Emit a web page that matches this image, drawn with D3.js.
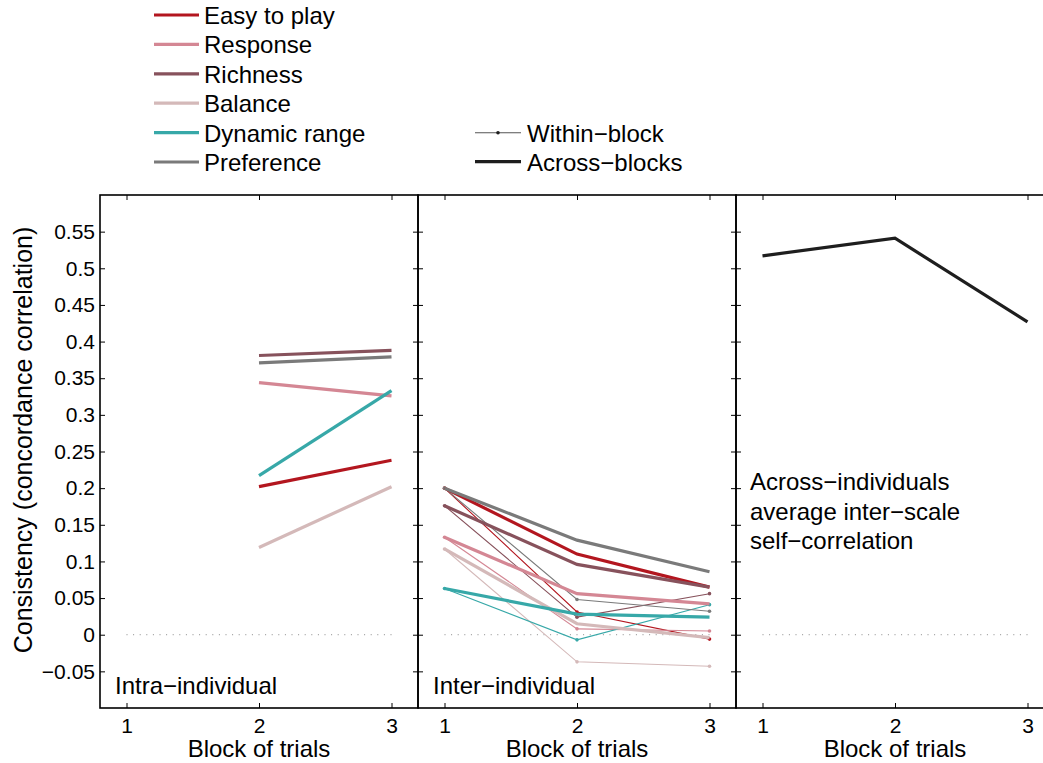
<!DOCTYPE html>
<html>
<head>
<meta charset="utf-8">
<script src="https://cdn.jsdelivr.net/npm/d3@7"></script>
<style>
  html, body { margin: 0; padding: 0; background: #fff; }
  svg { display: block; font-family: "Liberation Sans", Arial, Helvetica, sans-serif; }
</style>
</head>
<body>
<svg id="chart" width="1043" height="763"></svg>
<script>
// ---- data ----
const scales = ["Easy to play", "Response", "Richness", "Balance", "Dynamic range", "Preference"];
const scaleColors = ["#b3161f", "#d48794", "#87525c", "#d4b9b9", "#37a8a8", "#7a7a7a"];

// Intra-individual consistency, across blocks (blocks 2 and 3)
const intraBlocks = [2, 3];
const intraEasy = [0.202, 0.238];
const intraResponse = [0.344, 0.326];
const intraRichness = [0.381, 0.388];
const intraBalance = [0.119, 0.202];
const intraDynamic = [0.217, 0.333];
const intraPreference = [0.371, 0.379];

// Inter-individual consistency, across blocks
const interBlocks = [1, 2, 3];
const interEasy = [0.200, 0.110, 0.065];
const interResponse = [0.133, 0.056, 0.042];
const interRichness = [0.176, 0.096, 0.065];
const interBalance = [0.117, 0.015, -0.004];
const interDynamic = [0.063, 0.028, 0.024];
const interPreference = [0.200, 0.129, 0.086];

// Inter-individual consistency, within block
const withinEasy = [0.200, 0.031, -0.006];
const withinResponse = [0.133, 0.008, 0.005];
const withinRichness = [0.176, 0.024, 0.056];
const withinBalance = [0.117, -0.037, -0.043];
const withinDynamic = [0.063, -0.007, 0.041];
const withinPreference = [0.200, 0.048, 0.032];

// Across-individuals average inter-scale self-correlation
const selfBlocks = [1, 2, 3];
const selfCorrelation = [0.517, 0.541, 0.427];

const xTicks = [1, 2, 3];
const yTicks = [-0.05, 0, 0.05, 0.1, 0.15, 0.2, 0.25, 0.3, 0.35, 0.4, 0.45, 0.5, 0.55];
const yTickLabels = ["\u22120.05", "0", "0.05", "0.1", "0.15", "0.2", "0.25", "0.3", "0.35", "0.4", "0.45", "0.5", "0.55"];
const panelTitles = ["Intra\u2212individual", "Inter\u2212individual"];
const panel3Text = ["Across\u2212individuals", "average inter\u2212scale", "self\u2212correlation"];
const xTitle = "Block of trials";
const yTitle = "Consistency (concordance correlation)";

const intraSeries = [intraEasy, intraResponse, intraRichness, intraBalance, intraDynamic, intraPreference];
const interSeries = [interEasy, interResponse, interRichness, interBalance, interDynamic, interPreference];
const withinSeries = [withinEasy, withinResponse, withinRichness, withinBalance, withinDynamic, withinPreference];

// ---- layout ----
const svg = d3.select("#chart");
const plotTop = 195, plotBottom = 708;
const panelLeft = [100, 418, 736];
const panelW = 318;

const y = d3.scaleLinear().domain([-0.1, 0.6]).range([plotBottom, plotTop]);
const xs = panelLeft.map(l => d3.scaleLinear().domain([0.8, 3.2]).range([l, l + panelW]));

const tickFont = 21, labelFont = 24;

// zero reference lines
xs.forEach(x => {
  svg.append("line")
    .attr("x1", x(1)).attr("x2", x(3))
    .attr("y1", y(0)).attr("y2", y(0))
    .attr("stroke", "#8a8a8a").attr("stroke-width", 1)
    .attr("stroke-dasharray", "1,5.6");
});

const line = (x, blocks) => d3.line().x((d, i) => x(blocks[i])).y(d => y(d));

// panel 1: intra-individual, across blocks
intraSeries.forEach((s, k) => {
  svg.append("path").datum(s)
    .attr("d", line(xs[0], intraBlocks))
    .attr("fill", "none").attr("stroke", scaleColors[k]).attr("stroke-width", 3.2);
});

// panel 2: within-block thin lines with point markers
withinSeries.forEach((s, k) => {
  svg.append("path").datum(s)
    .attr("d", line(xs[1], interBlocks))
    .attr("fill", "none").attr("stroke", scaleColors[k]).attr("stroke-width", 1.1);
  svg.selectAll(null).data(s).enter().append("circle")
    .attr("cx", (d, i) => xs[1](interBlocks[i]))
    .attr("cy", d => y(d))
    .attr("r", 1.8).attr("fill", scaleColors[k]);
});
// panel 2: across-blocks thick lines
interSeries.forEach((s, k) => {
  svg.append("path").datum(s)
    .attr("d", line(xs[1], interBlocks))
    .attr("fill", "none").attr("stroke", scaleColors[k]).attr("stroke-width", 3.2);
});

// panel 3: self-correlation
svg.append("path").datum(selfCorrelation)
  .attr("d", line(xs[2], selfBlocks))
  .attr("fill", "none").attr("stroke", "#1e1e1e").attr("stroke-width", 3.2);

// axes boxes with inward ticks
xs.forEach((x, p) => {
  const gB = svg.append("g").attr("transform", `translate(0,${plotBottom})`)
    .call(d3.axisBottom(x).tickValues(xTicks).tickSizeInner(-5).tickSizeOuter(0).tickPadding(10).tickFormat(d3.format("d")));
  gB.selectAll("text").attr("font-size", tickFont).attr("font-family", null).attr("fill", "#000");
  svg.append("g").attr("transform", `translate(0,${plotTop})`)
    .call(d3.axisTop(x).tickValues(xTicks).tickSizeInner(-5).tickSizeOuter(0).tickFormat(""));

  const gL = svg.append("g").attr("transform", `translate(${panelLeft[p]},0)`)
    .call(d3.axisLeft(y).tickValues(yTicks).tickSizeInner(-5).tickSizeOuter(0).tickPadding(5)
      .tickFormat(d => p === 0 ? yTickLabels[yTicks.indexOf(d)] : ""));
  gL.selectAll("text").attr("font-size", tickFont).attr("font-family", null).attr("fill", "#000");
  svg.append("g").attr("transform", `translate(${panelLeft[p] + panelW},0)`)
    .call(d3.axisRight(y).tickValues(yTicks).tickSizeInner(-5).tickSizeOuter(0).tickFormat(""));

  svg.append("rect")
    .attr("x", panelLeft[p]).attr("y", plotTop)
    .attr("width", panelW).attr("height", plotBottom - plotTop)
    .attr("fill", "none").attr("stroke", "#000").attr("stroke-width", 1.6);

  svg.append("text")
    .attr("x", panelLeft[p] + panelW / 2).attr("y", 757)
    .attr("text-anchor", "middle").attr("font-size", labelFont)
    .text(xTitle);
});
svg.selectAll(".domain").remove();
svg.selectAll(".tick line").attr("stroke", "#000").attr("stroke-width", 1);

// panel captions
panelTitles.forEach((t, p) => {
  svg.append("text").attr("x", panelLeft[p] + 15).attr("y", 694)
    .attr("font-size", labelFont).text(t);
});
panel3Text.forEach((t, i) => {
  svg.append("text").attr("x", 750).attr("y", 490 + i * 29.5)
    .attr("font-size", labelFont).text(t);
});

// y axis title
svg.append("text")
  .attr("transform", `translate(32,440) rotate(-90)`)
  .attr("text-anchor", "middle").attr("font-size", 25)
  .text(yTitle);

// legend: scales
scales.forEach((name, k) => {
  const ly = 15 + k * 29.4;
  svg.append("line").attr("x1", 154).attr("x2", 199).attr("y1", ly).attr("y2", ly)
    .attr("stroke", scaleColors[k]).attr("stroke-width", 3.2);
  svg.append("text").attr("x", 204).attr("y", ly + 9)
    .attr("font-size", labelFont).text(name);
});

// legend: line styles
const styleNames = ["Within\u2212block", "Across\u2212blocks"];
styleNames.forEach((name, k) => {
  const ly = 132.7 + k * 29;
  svg.append("line").attr("x1", 475).attr("x2", 521).attr("y1", ly).attr("y2", ly)
    .attr("stroke", k === 0 ? "#555" : "#1e1e1e").attr("stroke-width", k === 0 ? 1.1 : 3.2);
  if (k === 0) {
    svg.append("circle").attr("cx", 498).attr("cy", ly).attr("r", 1.8).attr("fill", "#1e1e1e");
  }
  svg.append("text").attr("x", 527).attr("y", ly + 9)
    .attr("font-size", labelFont).text(name);
});
</script>
</body>
</html>
